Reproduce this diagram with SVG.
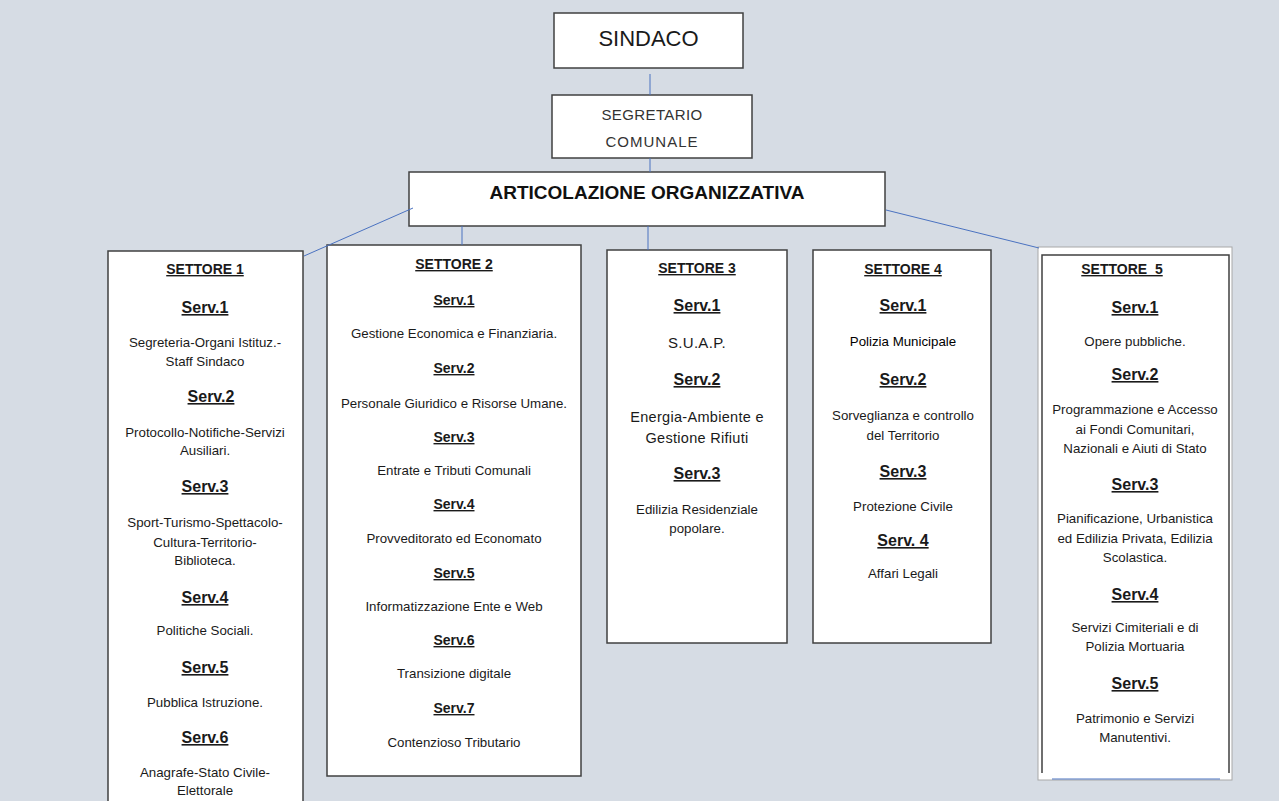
<svg xmlns="http://www.w3.org/2000/svg" width="1279" height="801" viewBox="0 0 1279 801">
<style>
text{font-family:"Liberation Sans",Arial,sans-serif;fill:#1a1a1a;text-anchor:middle}
.box{fill:#fff;stroke:#404040;stroke-width:1.5}
.con{stroke:#4a72c0;stroke-width:1;fill:none}
.st{font-size:14px;font-weight:bold;text-decoration:underline}
.sv{font-size:16px;font-weight:bold;text-decoration:underline}
.sv2{font-size:14px;font-weight:bold;text-decoration:underline}
.t{font-size:13.3px}
.t3{font-size:14.5px;letter-spacing:0.3px}
</style>
<rect width="1279" height="801" fill="#d6dce4"/>
<g id="sindaco">
<rect class="box" x="554" y="13" width="189" height="55"/>
<text x="648.5" y="46" style="font-size:22px">SINDACO</text>
</g>
<g id="segretario">
<rect class="box" x="552" y="95" width="200" height="63"/>
<text x="652" y="120" style="font-size:15px;fill:#333;letter-spacing:0.4px">SEGRETARIO</text>
<text x="652" y="147" style="font-size:15px;fill:#333;letter-spacing:1px">COMUNALE</text>
</g>
<g id="articolazione">
<rect class="box" x="409" y="172" width="476" height="54"/>
<text x="647" y="199" style="font-size:19px;font-weight:bold;fill:#111">ARTICOLAZIONE ORGANIZZATIVA</text>
</g>
<g id="settore1">
<rect class="box" x="108" y="251" width="195" height="560"/>
<text class="st" x="205" y="274">SETTORE 1</text>
<text class="sv" x="205" y="313">Serv.1</text>
<text class="t" x="205" y="347">Segreteria-Organi Istituz.-</text>
<text class="t" x="205" y="366">Staff Sindaco</text>
<text class="sv" x="211" y="402">Serv.2</text>
<text class="t" x="205" y="437">Protocollo-Notifiche-Servizi</text>
<text class="t" x="205" y="455">Ausiliari.</text>
<text class="sv" x="205" y="492">Serv.3</text>
<text class="t" x="205" y="527">Sport-Turismo-Spettacolo-</text>
<text class="t" x="205" y="547">Cultura-Territorio-</text>
<text class="t" x="205" y="565">Biblioteca.</text>
<text class="sv" x="205" y="603">Serv.4</text>
<text class="t" x="205" y="635">Politiche Sociali.</text>
<text class="sv" x="205" y="673">Serv.5</text>
<text class="t" x="205" y="707">Pubblica Istruzione.</text>
<text class="sv" x="205" y="743">Serv.6</text>
<text class="t" x="205" y="777">Anagrafe-Stato Civile-</text>
<text class="t" x="205" y="795">Elettorale</text>
</g>
<g id="settore2">
<rect class="box" x="327" y="245" width="254" height="531"/>
<text class="st" x="454" y="269">SETTORE 2</text>
<text class="sv2" x="454" y="305">Serv.1</text>
<text class="t" x="454" y="338">Gestione Economica e Finanziaria.</text>
<text class="sv2" x="454" y="373">Serv.2</text>
<text class="t" x="454" y="408">Personale Giuridico e Risorse Umane.</text>
<text class="sv2" x="454" y="442">Serv.3</text>
<text class="t" x="454" y="475">Entrate e Tributi Comunali</text>
<text class="sv2" x="454" y="509">Serv.4</text>
<text class="t" x="454" y="543">Provveditorato ed Economato</text>
<text class="sv2" x="454" y="578">Serv.5</text>
<text class="t" x="454" y="611">Informatizzazione Ente e Web</text>
<text class="sv2" x="454" y="645">Serv.6</text>
<text class="t" x="454" y="678">Transizione digitale</text>
<text class="sv2" x="454" y="713">Serv.7</text>
<text class="t" x="454" y="747">Contenzioso Tributario</text>
</g>
<g id="settore3">
<rect class="box" x="607" y="250" width="180" height="393"/>
<text class="st" x="697" y="273">SETTORE 3</text>
<text class="sv" x="697" y="311">Serv.1</text>
<text x="697" y="348" style="font-size:15px;letter-spacing:0.3px">S.U.A.P.</text>
<text class="sv" x="697" y="385">Serv.2</text>
<text class="t3" x="697" y="422">Energia-Ambiente e</text>
<text class="t3" x="697" y="443">Gestione Rifiuti</text>
<text class="sv" x="697" y="479">Serv.3</text>
<text class="t" x="697" y="514">Edilizia Residenziale</text>
<text class="t" x="697" y="533">popolare.</text>
</g>
<g id="settore4">
<rect class="box" x="813" y="250" width="178" height="393"/>
<text class="st" x="903" y="274">SETTORE 4</text>
<text class="sv" x="903" y="311">Serv.1</text>
<text class="t" x="903" y="346" style="fill:#000">Polizia Municipale</text>
<text class="sv" x="903" y="385">Serv.2</text>
<text class="t" x="903" y="420">Sorveglianza e controllo</text>
<text class="t" x="903" y="440">del Territorio</text>
<text class="sv" x="903" y="477">Serv.3</text>
<text class="t" x="903" y="511">Protezione Civile</text>
<text class="sv" x="903" y="546">Serv. 4</text>
<text class="t" x="903" y="578">Affari Legali</text>
</g>
<g id="settore5">
<rect x="1038" y="247" width="194" height="533" fill="#fff" stroke="#a8a8a8" stroke-width="1"/>
<path d="M1042 773 V255 H1229 V773" fill="none" stroke="#404040" stroke-width="1.5"/>
<text class="st" x="1122" y="274" style="white-space:pre">SETTORE  5</text>
<text class="sv" x="1135" y="313">Serv.1</text>
<text class="t" x="1135" y="346">Opere pubbliche.</text>
<text class="sv" x="1135" y="380">Serv.2</text>
<text class="t" x="1135" y="414">Programmazione e Accesso</text>
<text class="t" x="1135" y="434">ai Fondi Comunitari,</text>
<text class="t" x="1135" y="453">Nazionali e Aiuti di Stato</text>
<text class="sv" x="1135" y="490">Serv.3</text>
<text class="t" x="1135" y="523">Pianificazione, Urbanistica</text>
<text class="t" x="1135" y="543">ed Edilizia Privata, Edilizia</text>
<text class="t" x="1135" y="562">Scolastica.</text>
<text class="sv" x="1135" y="600">Serv.4</text>
<text class="t" x="1135" y="632">Servizi Cimiteriali e di</text>
<text class="t" x="1135" y="651">Polizia Mortuaria</text>
<text class="sv" x="1135" y="689">Serv.5</text>
<text class="t" x="1135" y="723">Patrimonio e Servizi</text>
<text class="t" x="1135" y="742">Manutentivi.</text>
</g>
<g id="connectors">
<line class="con" x1="650" y1="74" x2="650" y2="95"/>
<line class="con" x1="650" y1="158" x2="650" y2="172"/>
<line class="con" x1="413" y1="208" x2="304" y2="256"/>
<line class="con" x1="462" y1="226" x2="462" y2="245"/>
<line class="con" x1="648" y1="226" x2="648" y2="250"/>
<line class="con" x1="886" y1="210" x2="1039" y2="248"/>
<line class="con" x1="1052" y1="779" x2="1220" y2="779"/>
</g>
</svg>
